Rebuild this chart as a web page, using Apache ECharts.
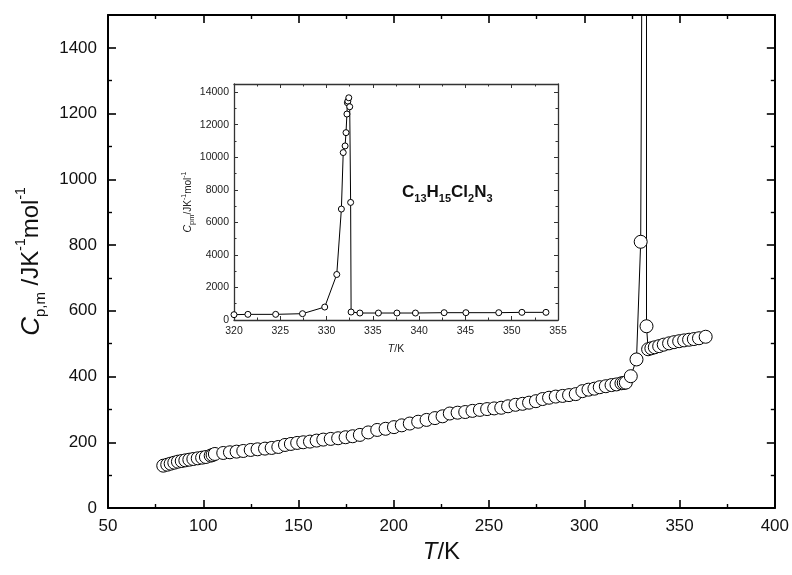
<!DOCTYPE html>
<html>
<head>
<meta charset="utf-8">
<script src="https://cdn.jsdelivr.net/npm/echarts@6/dist/echarts.min.js"></script>
<style>
  html, body { margin: 0; padding: 0; background: #fff; }
  #chart { width: 792px; height: 575px; }
</style>
</head>
<body>
<div id="chart"></div>
<script>
// main curve, T in K and Cp in J/(K mol)
const tempK = [79.0, 81.1, 82.9, 84.8, 86.7, 88.7, 90.6, 92.7, 94.8, 97.1, 99.4, 101.4, 103.9, 104.9, 106.1,
  110.5, 114.0, 117.5, 121.0, 124.9, 128.5, 132.4, 135.9, 139.4, 142.9, 146.0, 149.3, 152.5, 156.0, 159.5,
  163.0, 166.9, 170.8, 174.7, 178.4, 182.2,
  186.6, 191.3, 195.7, 200.1, 204.2, 208.4, 212.8, 217.2, 221.6, 225.6,
  229.4, 233.5, 237.5, 241.3, 245.2, 249.0, 252.7, 256.4, 260.0, 263.9,
  267.6, 271.0, 274.6, 278.1, 281.5, 285.0, 288.6, 292.0, 295.5, 299.0,
  302.2, 305.3, 308.1, 311.3, 314.3, 316.9, 319.5, 320.7, 321.8, 324.4,
  327.4, 329.6,
  331.1, 331.6, 331.8, 332.0, 332.1, 332.2, 332.25, 332.3, 332.4, 332.5, 332.6, 332.65,
  333.5, 335.2, 337.0, 339.3, 341.7, 344.5, 347.1, 349.8, 352.4, 355.0, 357.5, 360.2, 363.7];
const cpMain = [128.8, 131.8, 134.9, 137.9, 141, 143, 145, 147, 149.1, 151.1, 153.2, 155.2, 159.3, 161.3, 164.4,
  167.4, 169.5, 171.5, 173.5, 176.6, 178.6, 180.7, 182.7, 185.7, 191.8, 194.9, 198, 200, 202, 205.1,
  208.1, 210.2, 212.2, 215.3, 218.3, 222.4,
  230, 237.5, 241, 246, 251.5, 257, 262.5, 268, 273.5, 279,
  287.5, 290, 292, 295.5, 298.5, 301, 303, 305, 309.5, 314,
  317, 320.5, 325, 331.5, 335.5, 339, 341, 343.5, 346.5, 355.5,
  360, 363, 367.5, 370.5, 374, 376, 379.5, 380.5, 381.5, 401,
  452, 810,
  2796, 6817, 10287, 10695, 11511, 12654, 13348, 13450, 13654, 13103, 7225, 553,
  483, 486, 489, 492.5, 497, 501, 504.5, 507.5, 510, 512, 514, 516.5, 521];

// inset, transition region
const insetT = [320.0, 321.5, 324.5, 327.4, 329.8, 331.1, 331.6, 331.8, 332.0, 332.1, 332.2, 332.25, 332.3,
  332.4, 332.5, 332.6, 332.65, 333.6, 335.6, 337.6, 339.6, 342.7, 345.05, 348.6, 351.1, 353.7];
const insetCp = [327, 347, 347, 388, 796, 2796, 6817, 10287, 10695, 11511, 12654, 13348, 13450,
  13654, 13103, 7225, 490, 429, 429, 429, 429, 450, 450, 450, 470, 470];

const FONT = "'Liberation Sans', Arial, Helvetica, sans-serif";

const mainPts = tempK.map((t, i) => [t, cpMain[i]]);
const insetPts = insetT.map((t, i) => [t, insetCp[i]]);

// axes that only draw a frame side with inward ticks
function frameAxis(opt, big) {
  return Object.assign({
    type: "value",
    splitLine: { show: false },
    axisLine: { show: true, onZero: false, lineStyle: { color: big ? "#000" : "#333", width: big ? 2 : 1.3 } },
    axisTick: { show: true, inside: true, length: big ? 8 : 4, lineStyle: { color: big ? "#000" : "#333", width: big ? 1.6 : 1 } },
    minorTick: { show: true, splitNumber: 2, length: big ? 4 : 2.5, lineStyle: { color: big ? "#000" : "#333", width: big ? 1.4 : 1 } },
    axisLabel: { show: false }
  }, opt);
}

const plain = v => String(v);
const bigLabel = { show: true, fontFamily: FONT, fontSize: 17, color: "#111", margin: 10, formatter: plain };
const smallLabel = { show: true, fontFamily: FONT, fontSize: 10.5, color: "#222", margin: 6, formatter: plain };

let chart = echarts.init(document.getElementById("chart"), null, { renderer: "canvas" });

const option = {
  animation: false,
  backgroundColor: "#fff",
  grid: [
    { left: 108, right: 17, top: 15, bottom: 67 },
    { left: 234, width: 324, top: 84, height: 236, show: true, backgroundColor: "#fff", borderWidth: 0 }
  ],
  xAxis: [
    frameAxis({
      gridIndex: 0, position: "bottom", min: 50, max: 400, interval: 50,
      axisLabel: bigLabel,
      name: "{i|T}{n|/K}", nameLocation: "middle", nameGap: 32,
      nameTextStyle: {
        rich: {
          i: { fontFamily: FONT, fontSize: 24, fontStyle: "italic", color: "#111" },
          n: { fontFamily: FONT, fontSize: 24, color: "#111" }
        }
      }
    }, true),
    frameAxis({ gridIndex: 0, position: "top", min: 50, max: 400, interval: 50 }, true),
    frameAxis({
      gridIndex: 1, position: "bottom", min: 320, max: 355, interval: 5,
      axisLabel: smallLabel,
      name: "{i|T}{n|/K}", nameLocation: "middle", nameGap: 24,
      nameTextStyle: {
        rich: {
          i: { fontFamily: FONT, fontSize: 10.5, fontStyle: "italic", color: "#222" },
          n: { fontFamily: FONT, fontSize: 10.5, color: "#222" }
        }
      }
    }, false),
    frameAxis({ gridIndex: 1, position: "top", min: 320, max: 355, interval: 5 }, false)
  ],
  yAxis: [
    frameAxis({
      gridIndex: 0, position: "left", min: 0, max: 1500, interval: 200,
      axisLabel: Object.assign({}, bigLabel, { showMaxLabel: false, margin: 11 }),
      name: "{c|C}{sub|p,m}{n| /JK}{sup|-1}{n|mol}{sup|-1}", nameLocation: "middle", nameGap: 56,
      nameTextStyle: {
        rich: {
          c: { fontFamily: FONT, fontSize: 26, fontStyle: "italic", color: "#111", lineHeight: 34 },
          n: { fontFamily: FONT, fontSize: 24, color: "#111", lineHeight: 34 },
          sub: { fontFamily: FONT, fontSize: 15, color: "#111", lineHeight: 18, verticalAlign: "bottom" },
          sup: { fontFamily: FONT, fontSize: 14, color: "#111", lineHeight: 22, verticalAlign: "top" }
        }
      }
    }, true),
    frameAxis({ gridIndex: 0, position: "right", min: 0, max: 1500, interval: 200 }, true),
    frameAxis({
      gridIndex: 1, position: "left", min: 0, max: 14500, interval: 2000,
      axisLabel: Object.assign({}, smallLabel, { showMaxLabel: false, margin: 5 }),
      name: "{c|C}{sub|pm}{n|/JK}{sup|-1}{n|mol}{sup|-1}", nameLocation: "middle", nameGap: 36,
      nameTextStyle: {
        rich: {
          c: { fontFamily: FONT, fontSize: 10.5, fontStyle: "italic", color: "#222", lineHeight: 15 },
          n: { fontFamily: FONT, fontSize: 10, color: "#222", lineHeight: 15 },
          sub: { fontFamily: FONT, fontSize: 7.5, color: "#222", lineHeight: 9, verticalAlign: "bottom" },
          sup: { fontFamily: FONT, fontSize: 7, color: "#222", lineHeight: 10, verticalAlign: "top" }
        }
      }
    }, false),
    frameAxis({ gridIndex: 1, position: "right", min: 0, max: 14500, interval: 2000 }, false)
  ],
  graphic: [
    {
      type: "text",
      left: 402,
      top: 184,
      z: 100,
      style: {
        text: "{b|C}{s|13}{b|H}{s|15}{b|Cl}{s|2}{b|N}{s|3}",
        rich: {
          b: { fontFamily: FONT, fontSize: 17, fontWeight: "bold", fill: "#111", lineHeight: 20, padding: [0, 0, 3, 0], verticalAlign: "top" },
          s: { fontFamily: FONT, fontSize: 11, fontWeight: "bold", fill: "#111", lineHeight: 12, verticalAlign: "bottom" }
        }
      }
    }
  ],
  series: [
    {
      name: "main",
      type: "line",
      xAxisIndex: 0,
      yAxisIndex: 0,
      data: mainPts,
      symbol: "circle",
      symbolSize: 13,
      showAllSymbol: true,
      clip: true,
      lineStyle: { color: "#000", width: 1 },
      itemStyle: { color: "#fff", borderColor: "#000", borderWidth: 1 },
      z: 3
    },
    {
      name: "inset",
      type: "line",
      xAxisIndex: 2,
      yAxisIndex: 2,
      data: insetPts,
      symbol: "circle",
      symbolSize: 6,
      showAllSymbol: true,
      lineStyle: { color: "#000", width: 1 },
      itemStyle: { color: "#fff", borderColor: "#000", borderWidth: 1 },
      z: 5
    }
  ]
};

chart.setOption(option);
</script>
</body>
</html>
